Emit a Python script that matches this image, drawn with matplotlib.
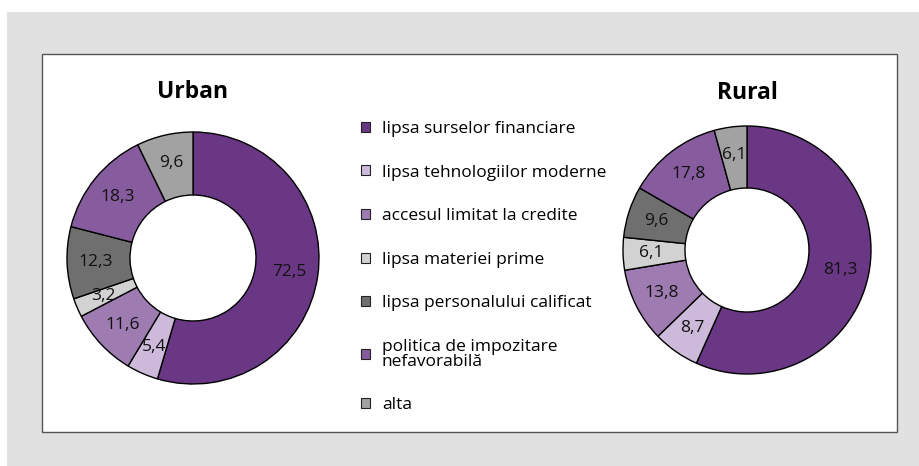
import numpy as np
import matplotlib
matplotlib.use('Agg')
import matplotlib.pyplot as plt
from matplotlib.patches import Rectangle

plt.rcParams['font.family'] = ['Open Sans', 'DejaVu Sans']

# Data
categories = [
    'lipsa surselor financiare',
    'lipsa tehnologiilor moderne',
    'accesul limitat la credite',
    'lipsa materiei prime',
    'lipsa personalului calificat',
    'politica de impozitare\nnefavorabilă',
    'alta',
]
urban_values = [72.5, 5.4, 11.6, 3.2, 12.3, 18.3, 9.6]
rural_values = [81.3, 8.7, 13.8, 6.1, 9.6, 17.8, 6.1]
panel_titles = ['Urban', 'Rural']

COLORS = ['#6A3785', '#CDB9D9', '#9E7BB1', '#D2D2D2', '#6F6F6F', '#875C9E', '#A2A2A2']

W, H = 920, 466
fig = plt.figure(figsize=(W / 100, H / 100), dpi=100)
fig.patch.set_facecolor('white')

# backgrounds
fig.patches.append(Rectangle((7 / W, 0), 1 - 7 / W, (H - 12) / H, transform=fig.transFigure,
                             facecolor='#E0E1E0', edgecolor='none', zorder=0))
fig.patches.append(Rectangle((42 / W, (H - 432) / H), (897 - 42) / W, (432 - 54) / H,
                             transform=fig.transFigure, facecolor='white',
                             edgecolor='#555555', linewidth=1.0, zorder=1))


def draw_donut(cx, cy, r, values, title, title_y):
    lim = 1.1
    side = 2 * lim * r
    ax = fig.add_axes([(cx - side / 2) / W, (H - cy - side / 2) / H, side / W, side / H])
    ax.set_zorder(2)
    wedges, _ = ax.pie(values, colors=COLORS, startangle=90, counterclock=False,
                       radius=1.0, wedgeprops=dict(width=0.5, edgecolor='black', linewidth=1.0))
    for w, v in zip(wedges, values):
        ang = np.deg2rad((w.theta1 + w.theta2) / 2)
        rr = 0.77
        ax.text(rr * np.cos(ang), rr * np.sin(ang), f'{v:.1f}'.replace('.', ','),
                ha='center', va='center', fontsize=12.5, color='#111111')
    ax.set_xlim(-lim, lim)
    ax.set_ylim(-lim, lim)
    ax.set_aspect('equal')
    ax.axis('off')
    fig.text(cx / W, (H - title_y) / H, title, ha='center', va='center',
             fontsize=16.5, fontweight='bold')
    return wedges


wedges = draw_donut(193, 258, 126, urban_values, panel_titles[0], 92)
draw_donut(747, 250, 124, rural_values, panel_titles[1], 93)

handles = [Rectangle((0, 0), 1, 1, facecolor=c, edgecolor='#222222', linewidth=0.8) for c in COLORS]
leg = fig.legend(handles, categories, loc='upper left',
                 bbox_to_anchor=(361 / W, (H - 121) / H), frameon=False,
                 fontsize=12.5, handlelength=0.5, handleheight=0.5, handletextpad=0.7,
                 labelspacing=1.59, borderaxespad=0, borderpad=0)
for t in leg.get_texts():
    t.set_linespacing(0.9)

fig.savefig('out.png', dpi=100, facecolor=fig.get_facecolor())
